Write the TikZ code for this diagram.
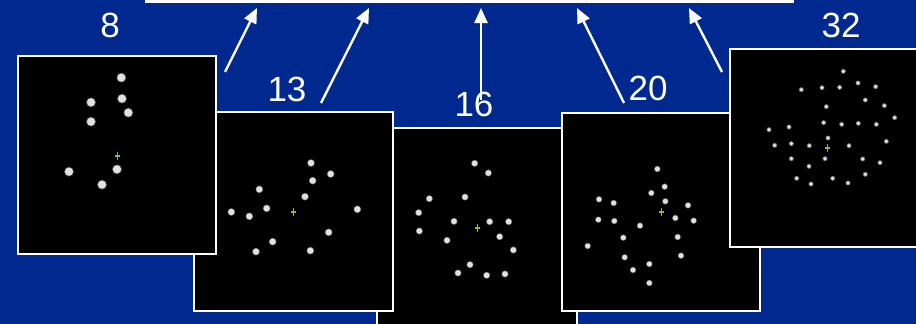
\documentclass[tikz,border=0pt]{standalone}
\usepackage{fontspec}
\setmainfont{Liberation Sans}
\usetikzlibrary{arrows.meta}
\definecolor{slideblue}{RGB}{0,41,143}
\definecolor{spot}{RGB}{226,226,226}
\definecolor{spotedge}{RGB}{110,110,110}
\definecolor{crossyellow}{RGB}{175,175,15}

% dots of one frame, given in a local grid of 1/3 pt
\newcommand\spotset[3]{%
  \foreach \p in {#3} {
    \fill[spotedge] \p circle[radius=#2pt];
    \fill[spot] \p circle[radius=#1pt];
  }
  \draw[crossyellow, line width=1.4pt] (311,301) -- (311,323) (304,312) -- (318,312);
}

\begin{document}
\begin{tikzpicture}[x=1pt,y=-1pt,
  panel/.style={draw=white, line width=2pt, fill=black, inner sep=0pt, outer sep=0pt},
  count/.style={text=white, font=\fontsize{35}{35}\selectfont, inner sep=0pt, anchor=center},
  arr/.style={draw=white, line width=2.4pt, -{Triangle[length=15pt,width=13pt]}},
  ]
\useasboundingbox (0,0) rectangle (916,324);
\clip (0,0) rectangle (916,324);
\fill[slideblue] (0,0) rectangle (916,324);
% white bar along the top edge
\fill[white] (145,0) rectangle (794,3);

% frame with 16 dots (lowest in the stack)
\node[panel, minimum width=200.3pt, minimum height=200pt] (p3) at (476.85,227.7) {};
\begin{scope}[shift={(374,124)}, x=0.33333pt, y=-0.33333pt]
  \spotset{2.8}{3.5}{(302,118),(343,147),(166,224),(273,219),(134,266),(240,292),(347,293),(404,293),(136,321),(219,349),(377,338),(418,378),(288,422),(252,447),(338,454),(393,450)}
\end{scope}

% frame with 13 dots
\node[panel, minimum width=199.3pt, minimum height=198.7pt] (p2) at (293.35,211.65) {};
\begin{scope}[shift={(190,108)}, x=0.33333pt, y=-0.33333pt]
  \spotset{3.1}{3.8}{(363,165),(422,198),(368,218),(208,244),(345,266),(124,312),(178,325),(230,301),(502,304),(416,373),(248,401),(198,431),(361,428)}
\end{scope}

% frame with 20 dots
\node[panel, minimum width=198.6pt, minimum height=198pt] (p4) at (661,212) {};
\begin{scope}[shift={(558,108)}, x=0.33333pt, y=-0.33333pt]
  \spotset{2.5}{3.2}{(298,183),(320,236),(280,255),(322,280),(123,274),(167,285),(390,292),(121,335),(169,339),(352,330),(407,338),(246,353),(196,389),(359,387),(89,414),(200,448),(369,443),(274,468),(225,486),(274,525)}
\end{scope}

% frame with 8 dots
\node[panel, minimum width=198.8pt, minimum height=198pt] (p1) at (116.9,155.3) {};
\begin{scope}[shift={(14,52)}, x=0.33333pt, y=-0.33333pt]
  \spotset{4.0}{4.8}{(322,77),(324,140),(231,151),(343,182),(231,209),(165,359),(309,352),(264,398)}
\end{scope}

% frame with 32 dots (runs past the right edge)
\node[panel, minimum width=199pt, minimum height=198pt] (p5) at (829.2,148) {};
\begin{scope}[shift={(724,44)}, x=0.33333pt, y=-0.33333pt]
  \spotset{1.9}{2.5}{(358,82),(232,137),(294,131),(347,130),(402,117),(455,128),(307,188),(424,168),(481,185),(512,221),(135,257),(195,249),(299,236),(353,241),(403,238),(457,241),(152,304),(202,299),(256,305),(312,282),(375,305),(487,292),(202,344),(303,344),(416,345),(468,356),(255,367),(218,403),(326,403),(261,420),(372,417),(424,391)}
\end{scope}

% counts
\node[count] (n8)  at (110,25.5) {8};
\node[count] (n13) at (287,89.5) {13};
\node[count] (n16) at (474,104.5) {16};
\node[count] (n20) at (648,88.5) {20};
\node[count] (n32) at (841,25) {32};

% arrows up to the bar
\coordinate (t1) at (225,72);  \coordinate (h1) at (257,8);
\coordinate (t2) at (321,103); \coordinate (h2) at (369,8);
\coordinate (t3) at (481,100); \coordinate (h3) at (481,8);
\coordinate (t4) at (624,103); \coordinate (h4) at (577,8);
\coordinate (t5) at (722,72);  \coordinate (h5) at (689,8);
\foreach \i in {1,...,5} { \draw[arr] (t\i) -- (h\i); }
\end{tikzpicture}
\end{document}
